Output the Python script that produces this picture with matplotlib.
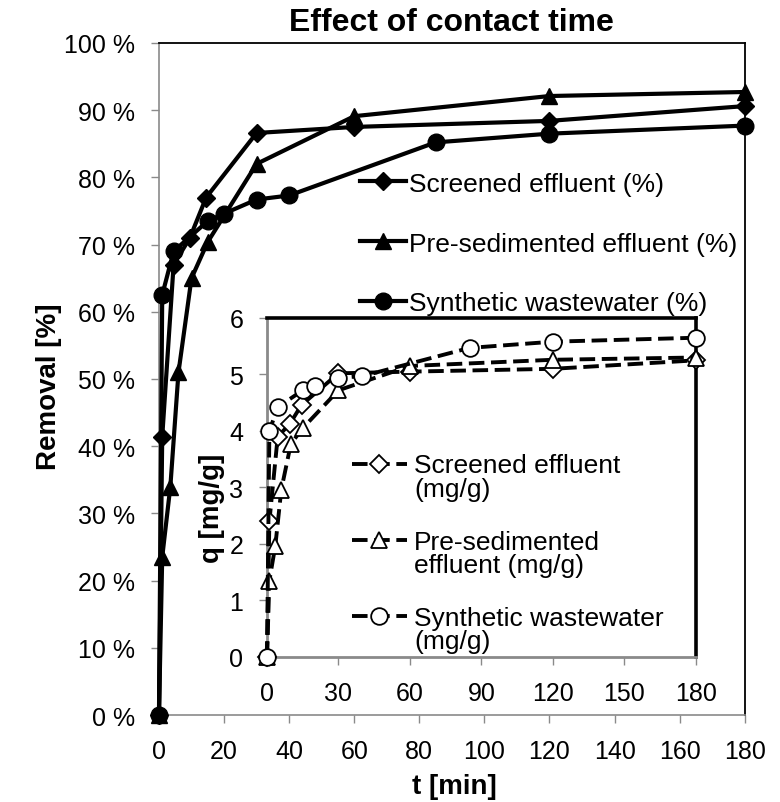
import numpy as np
import matplotlib
matplotlib.use("Agg")
import matplotlib.pyplot as plt
from matplotlib.legend_handler import HandlerLine2D

plt.rcParams['font.family'] = ['Liberation Sans', 'DejaVu Sans']

# contact time [min] per series
t_scr = [0, 1, 4.5, 9.5, 14.5, 30, 60, 120, 180]
t_pre = [0, 1, 3.5, 6, 10, 15, 30, 60, 120, 180]
t_syn = [0, 1, 4.5, 15, 20, 30, 40, 85, 120, 180]

# removal [%]
r_scr = [0, 41.4, 67, 71, 77, 86.6, 87.5, 88.4, 90.6]
r_pre = [0, 23.5, 34, 51, 65, 70.4, 82, 89.1, 92.1, 92.7]
r_syn = [0, 62.5, 69, 73.5, 74.6, 76.7, 77.3, 85.2, 86.5, 87.7]

# q [mg/g]
q_scr = [0, 2.4, 3.9, 4.12, 4.46, 5.02, 5.05, 5.1, 5.25]
q_pre = [0, 1.35, 1.97, 2.96, 3.77, 4.05, 4.72, 5.15, 5.26, 5.3]
q_syn = [0, 4.0, 4.42, 4.72, 4.8, 4.94, 4.97, 5.47, 5.58, 5.65]

main_labels = ["Screened effluent (%)", "Pre-sedimented effluent (%)", "Synthetic wastewater (%)"]
inset_labels = ["Screened effluent\n(mg/g)", "Pre-sedimented\neffluent (mg/g)", "Synthetic wastewater\n(mg/g)"]

x_ticks_main = np.arange(0, 181, 20)
y_ticks_main = np.arange(0, 101, 10)
x_ticks_in = np.arange(0, 181, 30)
y_ticks_in = np.arange(0, 7, 1)

GRAY = '#8a8a8a'


class FirstLineHandler(HandlerLine2D):
    # put the legend handle next to the first line of a two-line label
    def create_artists(self, legend, orig_handle, xdescent, ydescent, width, height, fontsize, trans):
        arts = super().create_artists(legend, orig_handle, xdescent, ydescent, width, height, fontsize, trans)
        for a in arts:
            a.set_ydata(np.asarray(a.get_ydata()) + 0.5 * fontsize)
        return arts


def style_axes(ax, side_lw):
    ax.spines['left'].set_color(GRAY)
    ax.spines['bottom'].set_color(GRAY)
    ax.spines['left'].set_linewidth(1.2)
    ax.spines['bottom'].set_linewidth(1.2)
    ax.spines['top'].set_color('black')
    ax.spines['right'].set_color('black')
    ax.spines['top'].set_linewidth(side_lw)
    ax.spines['right'].set_linewidth(side_lw)
    ax.tick_params(direction='out', length=6, width=1.0, color=GRAY, pad=11,
                   labelsize=18, top=False, right=False)


fig = plt.figure(figsize=(7.8, 8.03), dpi=100)
ax = fig.add_axes([0.2038, 0.1083, 0.751, 0.837])

mk = dict(color='black', lw=3, clip_on=False, zorder=3)
ax.plot(t_scr, r_scr, marker='D', ms=9, label=main_labels[0], **mk)
ax.plot(t_pre, r_pre, marker='^', ms=11, label=main_labels[1], **mk)
ax.plot(t_syn, r_syn, marker='o', ms=12, label=main_labels[2], **mk)

ax.set_xlim(0, 180)
ax.set_ylim(0, 100)
ax.set_xticks(x_ticks_main)
ax.set_yticks(y_ticks_main)
ax.set_yticklabels([f"{v} %" for v in y_ticks_main])
style_axes(ax, 1.3)

ax.set_title("Effect of contact time", fontsize=23, fontweight='bold', pad=9)
ax.set_xlabel("t [min]", fontsize=20, fontweight='bold')
ax.xaxis.set_label_coords(0.505, -0.086)
ax.set_ylabel("Removal [%]", fontsize=20, fontweight='bold')
ax.yaxis.set_label_coords(-0.165, 0.49)

ax.legend(loc='upper left', bbox_to_anchor=(0.4615, 0.785), bbox_transform=fig.transFigure,
          frameon=False, fontsize=19, handlelength=1.75, handletextpad=0.12,
          labelspacing=1.36, borderpad=0, borderaxespad=0)

# inset with q
axi = fig.add_axes([0.3423, 0.1806, 0.55, 0.4222])
dk = dict(color='black', lw=2.8, dashes=(4, 1.7), mfc='white', mec='black', mew=1.3,
          clip_on=False, zorder=3)
axi.plot(t_scr, q_scr, marker='D', ms=9, label=inset_labels[0], **dk)
axi.plot(t_pre, q_pre, marker='^', ms=11, label=inset_labels[1], **dk)
axi.plot(t_syn, q_syn, marker='o', ms=12, label=inset_labels[2], **dk)

axi.set_xlim(0, 180)
axi.set_ylim(0, 6)
axi.set_xticks(x_ticks_in)
axi.set_yticks(y_ticks_in)
style_axes(axi, 2.6)
axi.spines['left'].set_linewidth(2)
axi.spines['bottom'].set_linewidth(2)
axi.set_ylabel("q [mg/g]", fontsize=20, fontweight='bold')
axi.yaxis.set_label_coords(-0.097, 0.44)

leg = axi.legend(loc='upper left', bbox_to_anchor=(0.451, 0.434), bbox_transform=fig.transFigure,
                 frameon=False, fontsize=19, handlelength=2.1, handletextpad=0.27,
                 labelspacing=1.1, borderpad=0, borderaxespad=0,
                 handler_map={matplotlib.lines.Line2D: FirstLineHandler()})
for txt in leg.get_texts():
    txt.set_linespacing(0.95)

fig.savefig("out.png", dpi=100)
